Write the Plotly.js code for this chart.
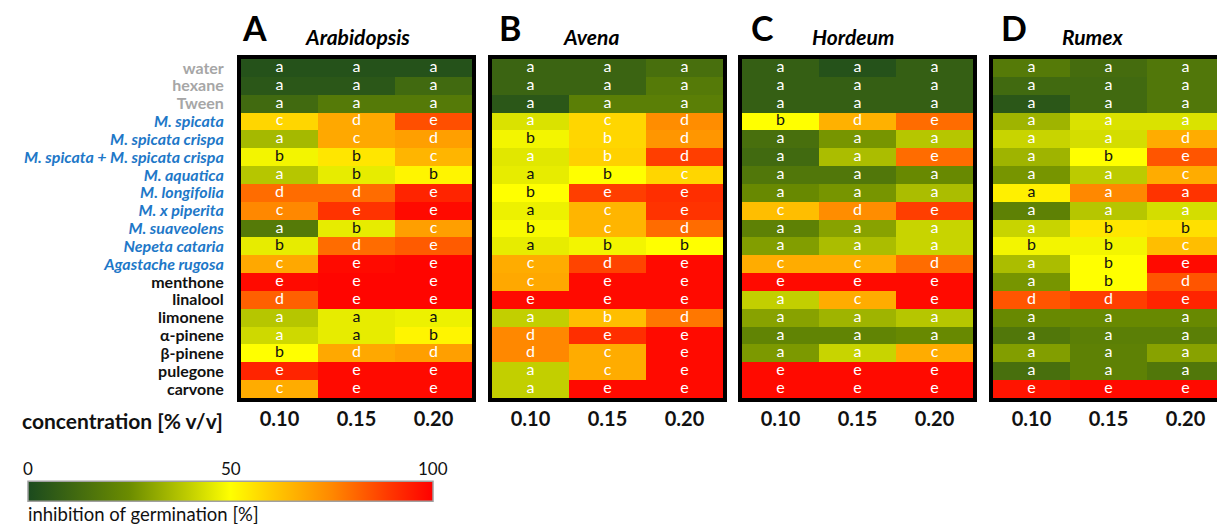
<!DOCTYPE html>
<html>
<head>
<meta charset="utf-8">
<script src="https://cdn.plot.ly/plotly-3.0.1.min.js"></script>
<style>
html,body{margin:0;padding:0;overflow:hidden;background:#fff;}
#chart{width:1240px;height:524px;}
</style>
</head>
<body>
<div id="chart"></div>
<script>
// ---------- DATA ----------
const concentrations = ['0.10', '0.15', '0.20'];
const treatments = ['water', 'hexane', 'Tween', 'M. spicata', 'M. spicata crispa',
  'M. spicata + M. spicata crispa', 'M. aquatica', 'M. longifolia', 'M. x piperita',
  'M. suaveolens', 'Nepeta cataria', 'Agastache rugosa', 'menthone', 'linalool',
  'limonene', 'α-pinene', 'β-pinene', 'pulegone', 'carvone'];
const controls = ['water', 'hexane', 'Tween'];
const essentialOils = ['M. spicata', 'M. spicata crispa', 'M. spicata + M. spicata crispa',
  'M. aquatica', 'M. longifolia', 'M. x piperita', 'M. suaveolens', 'Nepeta cataria', 'Agastache rugosa'];
const panelLabels = ['A', 'B', 'C', 'D'];
const species = ['Arabidopsis', 'Avena', 'Hordeum', 'Rumex'];

// inhibition of germination [%], rows = treatments, cols = concentrations
const inhibitionArabidopsis = [
  [3, 3, 3], [5, 5, 12], [12, 18, 18], [58, 68, 85], [35, 68, 70],
  [48, 55, 65], [38, 46, 52], [80, 80, 93], [75, 90, 98], [18, 46, 70],
  [46, 80, 83], [68, 98, 99], [98, 99, 99], [82, 99, 99], [38, 46, 47],
  [42, 46, 52], [50, 68, 70], [93, 98, 98], [67, 98, 98]];
const lettersArabidopsis = [
  ['a','a','a'], ['a','a','a'], ['a','a','a'], ['c','d','e'], ['a','c','d'],
  ['b','b','c'], ['a','b','b'], ['d','d','e'], ['c','e','e'], ['a','b','c'],
  ['b','d','e'], ['c','e','e'], ['e','e','e'], ['d','e','e'], ['a','a','a'],
  ['a','a','b'], ['b','d','d'], ['e','e','e'], ['c','e','e']];

const inhibitionAvena = [
  [10, 10, 14], [10, 10, 18], [5, 20, 20], [44, 58, 74], [48, 58, 72],
  [45, 59, 88], [46, 50, 58], [50, 88, 91], [47, 65, 90], [49, 65, 80],
  [46, 48, 50], [67, 87, 98], [68, 98, 98], [98, 98, 98], [40, 63, 78],
  [75, 91, 98], [75, 67, 98], [40, 67, 98], [40, 98, 98]];
const lettersAvena = [
  ['a','a','a'], ['a','a','a'], ['a','a','a'], ['a','c','d'], ['b','b','d'],
  ['a','b','d'], ['a','b','c'], ['b','e','e'], ['a','c','e'], ['b','c','d'],
  ['a','b','b'], ['c','d','e'], ['c','e','e'], ['e','e','e'], ['a','b','d'],
  ['d','e','e'], ['d','c','e'], ['a','c','e'], ['a','e','e']];

const inhibitionHordeum = [
  [8, 3, 8], [8, 8, 8], [8, 8, 8], [50, 66, 80], [14, 27, 38],
  [12, 36, 80], [17, 17, 24], [24, 27, 36], [63, 74, 88], [21, 30, 41],
  [29, 36, 41], [67, 67, 80], [98, 98, 98], [40, 67, 98], [30, 34, 38],
  [22, 22, 24], [28, 41, 67], [98, 98, 98], [98, 98, 98]];
const lettersHordeum = [
  ['a','a','a'], ['a','a','a'], ['a','a','a'], ['b','d','e'], ['a','a','a'],
  ['a','a','e'], ['a','a','a'], ['a','a','a'], ['c','d','e'], ['a','a','a'],
  ['a','a','a'], ['c','c','d'], ['e','e','e'], ['a','c','e'], ['a','a','a'],
  ['a','a','a'], ['a','a','c'], ['e','e','e'], ['e','e','e']];

const inhibitionRumex = [
  [18, 13, 17], [12, 12, 17], [5, 12, 17], [34, 44, 44], [41, 43, 67],
  [34, 50, 84], [27, 39, 67], [53, 75, 90], [21, 38, 43], [41, 55, 56],
  [48, 48, 63], [36, 50, 98], [27, 50, 84], [84, 88, 93], [24, 24, 24],
  [17, 20, 20], [29, 21, 30], [14, 21, 17], [96, 98, 98]];
const lettersRumex = [
  ['a','a','a'], ['a','a','a'], ['a','a','a'], ['a','a','a'], ['a','a','d'],
  ['a','b','e'], ['a','a','c'], ['a','a','a'], ['a','a','a'], ['a','b','b'],
  ['b','b','c'], ['a','b','e'], ['a','b','d'], ['d','d','e'], ['a','a','a'],
  ['a','a','a'], ['a','a','a'], ['a','a','a'], ['e','e','e']];

const colorbarTicks = [0, 50, 100];

// ---------- LAYOUT / STYLE ----------
const W = 1240, H = 524;
const FONT = 'Lato, "Open Sans", sans-serif';
const panels = [
  {z: inhibitionArabidopsis, t: lettersArabidopsis, x0: 241, titleX: 357, labelX: 240},
  {z: inhibitionAvena,       t: lettersAvena,       x0: 492, titleX: 591, labelX: 497},
  {z: inhibitionHordeum,     t: lettersHordeum,     x0: 742, titleX: 853, labelX: 749},
  {z: inhibitionRumex,       t: lettersRumex,       x0: 993, titleX: 1092, labelX: 999}
];
const cellW = 231, cellsTop = 59, cellsBottom = 398;
const px = v => v / W, py = v => 1 - v / H;

function styledLabel(name) {
  if (controls.includes(name)) return '<span style="color:#a6a6a6">' + name + '</span>';
  if (essentialOils.includes(name)) return '<span style="color:#1e78c8"><i>' + name + '</i></span>';
  return '<span style="color:#111">' + name + '</span>';
}

const colorscale = [
  [0, '#1b4a1e'], [0.25, '#6b8c00'], [0.4, '#c2cf00'], [0.5, '#ffff00'],
  [0.6, '#ffcc00'], [0.75, '#ff8800'], [0.9, '#ff3300'], [1, '#ff0000']
];

const data = [];
const layout = {
  width: W, height: H,
  margin: {l: 0, r: 0, t: 0, b: 0, autoexpand: false},
  paper_bgcolor: '#fff', plot_bgcolor: '#fff',
  font: {family: FONT},
  showlegend: false,
  coloraxis: {
    cmin: 0, cmax: 100, colorscale: colorscale,
    colorbar: {
      orientation: 'h', xref: 'container', yref: 'container',
      x: px(230.5), xanchor: 'center', y: 1 - 491.5 / H, yanchor: 'middle',
      len: 405, lenmode: 'pixels', thickness: 20, thicknessmode: 'pixels',
      xpad: 0, ypad: 0,
      outlinecolor: '#a0a0a0', outlinewidth: 1.5,
      showticklabels: false, ticks: '', title: {text: ''}
    }
  },
  annotations: []
};

panels.forEach((p, i) => {
  const n = i === 0 ? '' : String(i + 1);
  const xa = 'xaxis' + n, ya = 'yaxis' + n;
  data.push({
    type: 'heatmap', x: concentrations, y: treatments, z: p.z,
    coloraxis: 'coloraxis', xaxis: 'x' + n, yaxis: 'y' + n,
    xgap: 0, ygap: 0, hoverinfo: 'skip'
  });
  // significance letters drawn as a text trace on the same category axes
  const lx = [], ly = [], lt = [], lc = [];
  treatments.forEach((row, r) => {
    concentrations.forEach((c, k) => {
      const v = p.z[r][k];
      lx.push(c); ly.push(row); lt.push(p.t[r][k]);
      lc.push(v >= 45.5 && v <= 57.5 ? '#111' : '#fff');
    });
  });
  data.push({
    type: 'scatter', mode: 'text', x: lx, y: ly, text: lt,
    textposition: 'middle center', xaxis: 'x' + n, yaxis: 'y' + n,
    textfont: {size: 16, color: lc, family: FONT}, hoverinfo: 'skip', cliponaxis: false
  });
  layout[xa] = {
    domain: [px(p.x0), px(p.x0 + cellW)], anchor: 'y' + n, type: 'category',
    range: [-0.5, concentrations.length - 0.5], autorange: false,
    showline: true, mirror: true, linewidth: 4, linecolor: '#000',
    showgrid: false, zeroline: false, ticks: '', ticklabelstandoff: 0,
    tickfont: {size: 20, weight: 'bold', color: '#111', family: FONT},
    fixedrange: true
  };
  layout[ya] = {
    domain: [1 - cellsBottom / H, 1 - cellsTop / H], anchor: 'x' + n, type: 'category',
    range: [treatments.length - 0.5, -0.5], autorange: false,
    showline: true, mirror: true, linewidth: 4, linecolor: '#000',
    showgrid: false, zeroline: false, ticks: '',
    showticklabels: i === 0, ticklabelstandoff: 10,
    tickvals: treatments, ticktext: treatments.map(styledLabel),
    tickfont: {size: 16, weight: 'bold', family: FONT},
    fixedrange: true
  };
  // panel letter + species title
  layout.annotations.push({
    xref: 'paper', yref: 'paper', x: px(p.labelX), y: py(28), xanchor: 'left', yanchor: 'middle',
    text: panelLabels[i], showarrow: false, font: {size: 34, weight: 'bold', color: '#000', family: FONT}
  });
  layout.annotations.push({
    xref: 'paper', yref: 'paper', x: px(p.titleX), y: py(37), xanchor: 'center', yanchor: 'middle',
    text: '<i>' + species[i] + '</i>', showarrow: false,
    font: {size: 21, weight: 'bold', color: '#000', family: FONT}
  });
});

layout.annotations.push({
  xref: 'paper', yref: 'paper', x: px(20), y: py(420), xanchor: 'left', yanchor: 'middle',
  text: 'concentration [% v/v]', showarrow: false,
  font: {size: 21, weight: 'bold', color: '#111', family: FONT}
});
// colour bar tick labels + title
colorbarTicks.forEach(t => {
  layout.annotations.push({
    xref: 'paper', yref: 'paper', x: px(28 + 405 * t / 100), y: py(468), xanchor: 'center', yanchor: 'middle',
    text: String(t), showarrow: false, font: {size: 17, color: '#111', family: FONT}
  });
});
layout.annotations.push({
  xref: 'paper', yref: 'paper', x: px(26), y: py(514), xanchor: 'left', yanchor: 'middle',
  text: 'inhibition of germination [%]', showarrow: false, font: {size: 18.5, color: '#111', family: FONT}
});

Plotly.newPlot('chart', data, layout, {displayModeBar: false, staticPlot: true});
</script>
</body>
</html>
